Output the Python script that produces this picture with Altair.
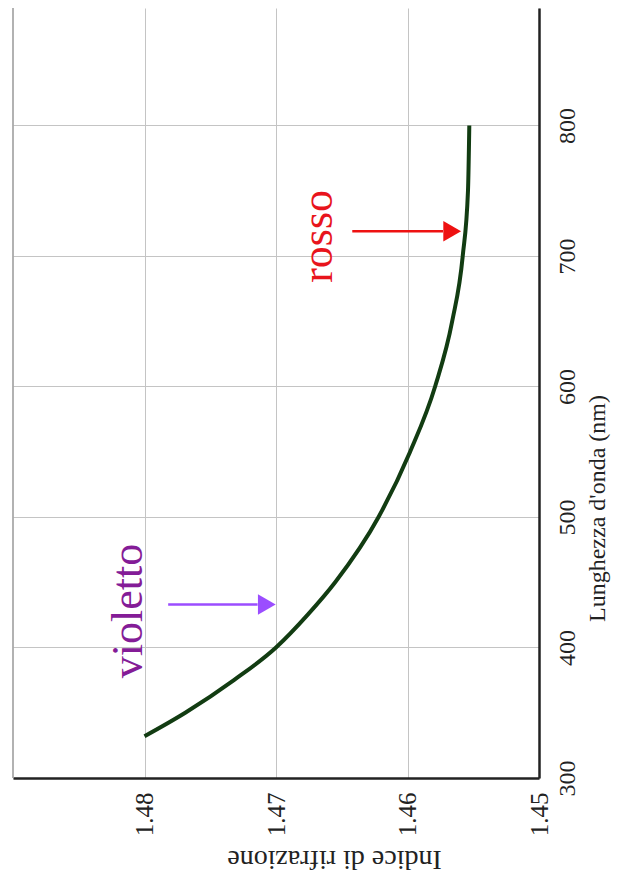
import altair as alt
import pandas as pd

# curve
wavelength = [332, 350, 375, 400, 425, 450, 500, 550, 600, 650, 700, 750, 800]
index_n = [1.4800, 1.4769, 1.4732, 1.4700, 1.4676, 1.4655, 1.4622, 1.4598, 1.4579, 1.4566, 1.4558, 1.4554, 1.4553]

x_ticks = [1.45, 1.46, 1.47, 1.48]
y_ticks = [300, 400, 500, 600, 700, 800]

# annotations (data units)
ann_labels = ["violetto", "rosso"]
ann_n = [1.4812, 1.4667]
ann_wl = [428, 715]
ann_colors = ["#841c97", "#e8141c"]
arrow_from = [1.4782, 1.4642]
arrow_to = [1.4714, 1.4573]
arrow_head = [1.4707, 1.4566]
arrow_wl = [433, 719]
arrow_colors = ["#9b4dff", "#ee1111"]

curve = pd.DataFrame({"wl": wavelength, "n": index_n})
ann = pd.DataFrame({"label": ann_labels, "n": ann_n, "wl": ann_wl, "c": ann_colors})
arr = pd.DataFrame({"n1": arrow_from, "n2": arrow_to, "nh": arrow_head, "wl": arrow_wl, "c": arrow_colors})
border = pd.DataFrame({"n": [1.49]})

FONT = "Liberation Serif"

xscale = alt.Scale(domain=[1.45, 1.49], reverse=True, nice=False, zero=False)
yscale = alt.Scale(domain=[300, 890], nice=False, zero=False)

xaxis = alt.Axis(
    orient="bottom", values=x_ticks, format=".2f", labelAngle=270, ticks=False,
    labelPadding=14, labelFont=FONT, labelFontSize=25, labelColor="#222",
    grid=True, gridColor="#c4c4c4", gridWidth=1,
    domainColor="#222", domainWidth=2.5,
    title="Indice di rifrazione", titleFont=FONT, titleFontSize=28, titleFontWeight="normal",
    titleColor="#222", titleAngle=180, titleX=321, titleY=94,
)
yaxis = alt.Axis(
    orient="right", values=y_ticks, labelAngle=270, ticks=False,
    labelPadding=16, labelFont=FONT, labelFontSize=24, labelColor="#222",
    grid=True, gridColor="#c4c4c4", gridWidth=1,
    domainColor="#222", domainWidth=2.5,
    title="Lunghezza d'onda (nm)", titleFont=FONT, titleFontSize=24, titleFontWeight="normal",
    titleColor="#222", titleAngle=270, titleX=70, titleY=500,
)

def X(field):
    return alt.X(field, type="quantitative", scale=xscale, axis=xaxis)

def Y(field):
    return alt.Y(field, type="quantitative", scale=yscale, axis=yaxis)

line = alt.Chart(curve).mark_line(color="#123c12", strokeWidth=4, interpolate="monotone").encode(
    x=X("n"), y=Y("wl"), order="wl:Q",
)

left_border = alt.Chart(border).mark_rule(color="#999", strokeWidth=1.5).encode(x=X("n"))

texts = alt.Chart(ann).mark_text(font=FONT, fontSize=44, angle=270, align="center", baseline="middle").encode(
    x=X("n"), y=Y("wl"),
    text="label:N",
    color=alt.Color("c:N", scale=None),
)

shafts = alt.Chart(arr).mark_rule(strokeWidth=2.5).encode(
    x=X("n1"), x2="n2:Q", y=Y("wl"),
    color=alt.Color("c:N", scale=None),
)

heads = alt.Chart(arr).mark_point(shape="triangle-right", filled=True, size=420, opacity=1).encode(
    x=X("nh"), y=Y("wl"),
    color=alt.Color("c:N", scale=None),
)

chart = alt.layer(line, left_border, shafts, heads, texts).properties(
    width=526, height=770,
    autosize=alt.AutoSizeParams(type="none"),
    padding={"left": 5, "top": 0, "right": 75, "bottom": 100},
    background="white",
).configure_view(stroke=None)

chart.save("out.html", embed_options={"renderer": "svg", "actions": False})
